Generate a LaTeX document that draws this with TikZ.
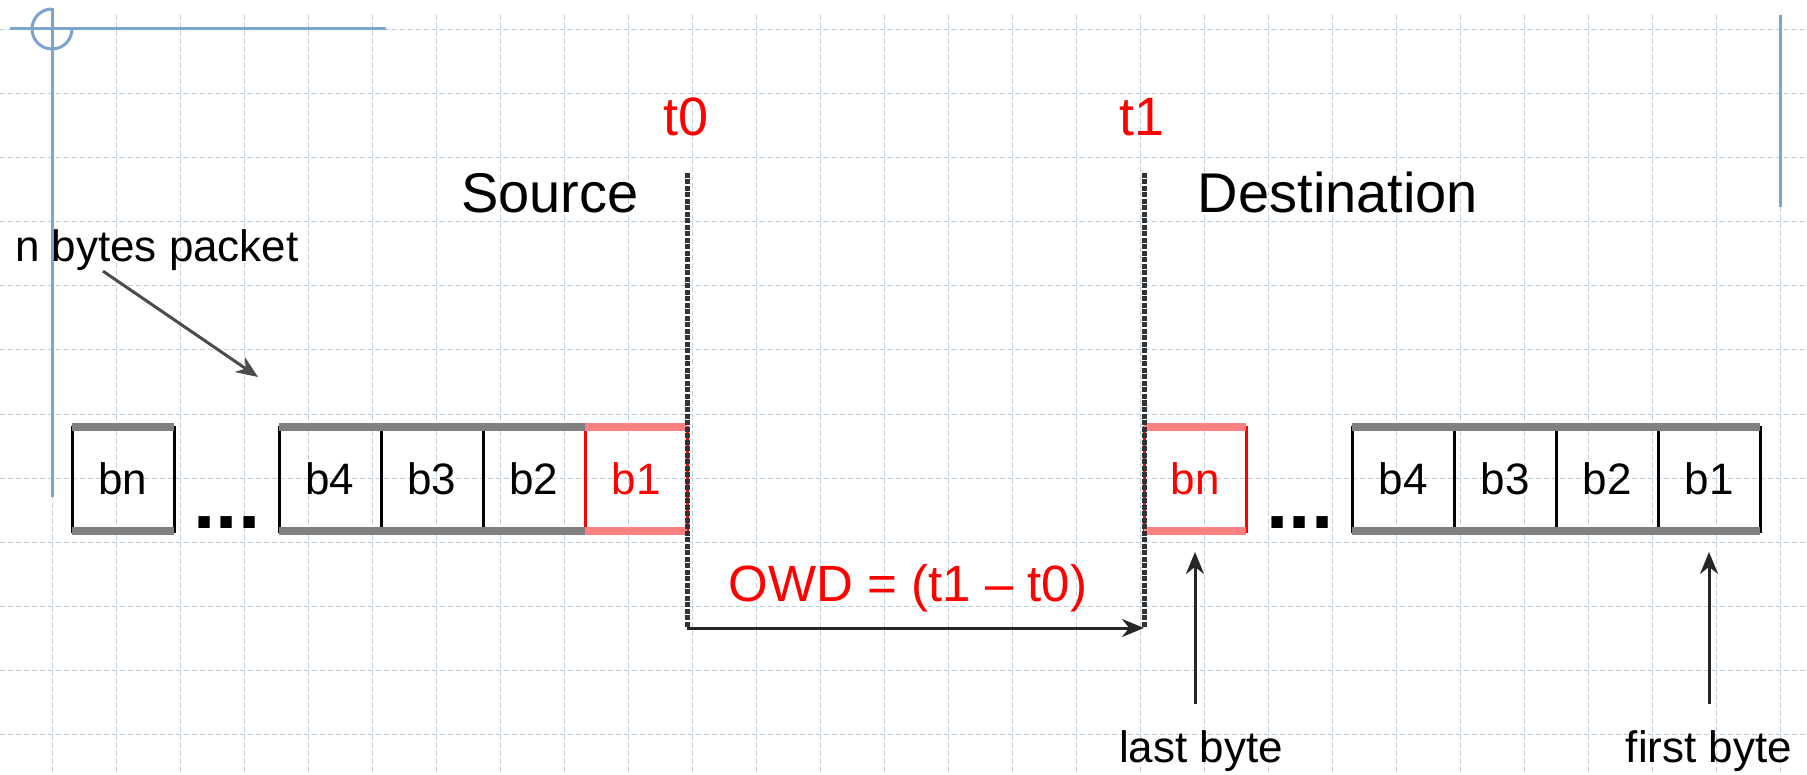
\documentclass[tikz,border=0pt]{standalone}
\usepackage{fontspec}
\setmainfont{Liberation Sans}
\usetikzlibrary{arrows.meta, positioning}

\definecolor{gridblue}{RGB}{190,210,222}
\definecolor{deco}{RGB}{124,164,204}
\definecolor{rimgray}{RGB}{128,128,128}
\definecolor{rimred}{RGB}{255,128,128}
\newcommand{\fs}[1]{\fontsize{#1}{#1}\selectfont}

\begin{document}
\begin{tikzpicture}[x=1pt, y=-1pt,
    every node/.style={inner sep=0pt, outer sep=0pt},
    gridline/.style={gridblue, line width=1pt, dash pattern=on 5pt off 3pt},
    decoline/.style={deco, line width=3pt},
    cell/.style={draw=black, line width=3pt, minimum width=102pt, minimum height=104pt, font=\fs{44}},
    redcell/.style={cell, draw=red, text=red},
    rim/.style={rimgray, line width=8pt},
    redrim/.style={rimred, line width=8pt},
    gapdots/.style={font=\bfseries\fs{80}, anchor=base},
    timeline/.style={black!80, line width=5pt, dash pattern=on 5pt off 1.5pt},
    arr/.style={black!85, line width=3pt, -{Stealth[length=22pt, width=18pt]}},
    tlabel/.style={red, font=\fs{54}, anchor=base},
    endlbl/.style={font=\fs{56}, anchor=base},
    note/.style={font=\fs{44}, anchor=base}
]
\useasboundingbox (0,0) rectangle (1807,775);
\fill[white] (0,0) rectangle (1807,775);

% background grid
\foreach \i in {0,...,27}
  \draw[gridline] (52+64*\i, 15) -- (52+64*\i, 775);
\foreach \j in {0,...,11}
  \draw[gridline] (0, 30+64*\j) -- (1807, 30+64*\j);

% slide decoration
\draw[decoline] (10,29) -- (386,29);
\draw[decoline] (72,29) arc[start angle=0, end angle=270, radius=20];
\draw[decoline] (52,8) -- (52,497);
\draw[decoline] (1780,15) -- (1780,207);

% source packet
\node[cell] (sbn) at (123,479) {bn};
\node[gapdots] (ldots) at (227,528) {...};
\node[cell] (sb4) at (330,479) {b4};
\node[cell, right=0pt of sb4] (sb3) {b3};
\node[cell, right=0pt of sb3] (sb2) {b2};
\node[redcell, right=0pt of sb2] (sb1) {b1};

% destination packet
\node[redcell] (dbn) at (1195,479) {bn};
\node[gapdots] (rdots) at (1300,528) {...};
\node[cell] (db4) at (1403,479) {b4};
\node[cell, right=0pt of db4] (db3) {b3};
\node[cell, right=0pt of db3] (db2) {b2};
\node[cell, right=0pt of db2] (db1) {b1};

\foreach \c in {sbn,sb4,sb3,sb2,db4,db3,db2,db1} {
  \draw[rim] (\c.north west) -- (\c.north east);
  \draw[rim] (\c.south west) -- (\c.south east);
}
\foreach \c in {sb1,dbn} {
  \draw[redrim] (\c.north west) -- (\c.north east);
  \draw[redrim] (\c.south west) -- (\c.south east);
}

% labels
\node[tlabel] (t0) at (686,136) {t0};
\node[tlabel] (t1) at (1142,136) {t1};
\node[endlbl] (src) at (550,213) {Source};
\node[endlbl] (dst) at (1338,213) {Destination};
\node[note, anchor=base west] (pkt) at (15,262) {n bytes packet};
\node[red, font=\fs{51}, anchor=base] (owd) at (908,601) {OWD = (t1 – t0)};
\node[note] (lastlbl) at (1201,762) {last byte};
\node[note] (firstlbl) at (1709,762) {first byte};

% time lines and delay
\coordinate (t0top) at (687,173);
\coordinate (t0bot) at (687,628);
\coordinate (t1top) at (1144,173);
\coordinate (t1bot) at (1144,628);
\draw[timeline] (t0top) -- (t0bot);
\draw[timeline] (t1top) -- (t1bot);
\draw[arr] (t0bot) -- (t1bot);

\coordinate (pkttip) at (258,377);
\draw[arr, black!70] ([xshift=88pt]pkt.south west) -- (pkttip);
\draw[arr] ([yshift=26pt]dbn.south |- lastlbl.north) -- ([yshift=-21pt]dbn.south);
\draw[arr] ([yshift=26pt]db1.south |- firstlbl.north) -- ([yshift=-21pt]db1.south);
\end{tikzpicture}
\end{document}
